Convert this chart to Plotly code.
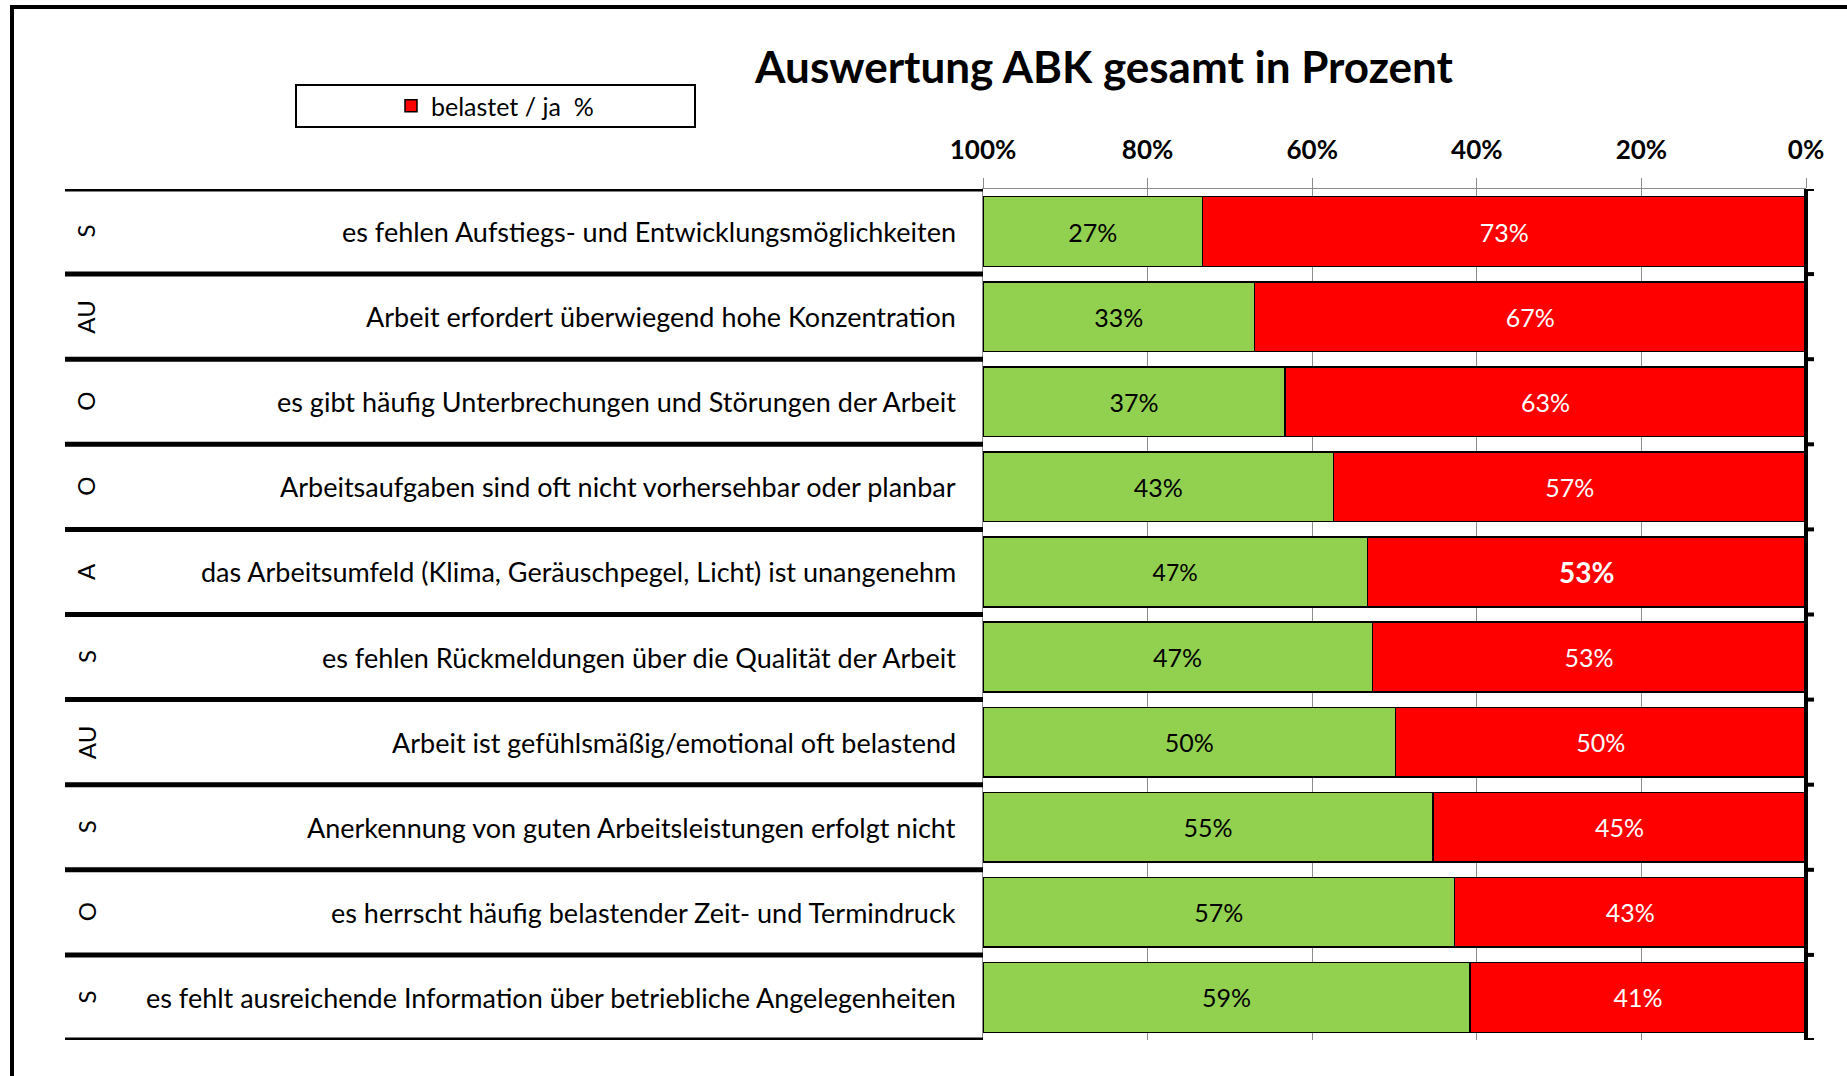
import plotly.graph_objects as go

# ---------------- data ----------------
letters = ["S", "AU", "O", "O", "A", "S", "AU", "S", "O", "S"]
items = [
    "es fehlen Aufstiegs- und Entwicklungsmöglichkeiten",
    "Arbeit erfordert überwiegend hohe Konzentration",
    "es gibt häufig Unterbrechungen und Störungen der Arbeit",
    "Arbeitsaufgaben sind oft nicht vorhersehbar oder planbar",
    "das Arbeitsumfeld (Klima, Geräuschpegel, Licht) ist unangenehm",
    "es fehlen Rückmeldungen über die Qualität der Arbeit",
    "Arbeit ist gefühlsmäßig/emotional oft belastend",
    "Anerkennung von guten Arbeitsleistungen erfolgt nicht",
    "es herrscht häufig belastender Zeit- und Termindruck",
    "es fehlt ausreichende Information über betriebliche Angelegenheiten",
]
green_vals = [26.7, 33.0, 36.7, 42.6, 46.7, 47.3, 50.1, 54.7, 57.3, 59.2]
red_vals = [73.3, 67.0, 63.3, 57.4, 53.3, 52.7, 49.9, 45.3, 42.7, 40.8]
tick_vals = [100, 80, 60, 40, 20, 0]
tick_text = ["100%", "80%", "60%", "40%", "20%", "0%"]
legend_name = "belastet / ja  %"
title_text = "Auswertung ABK gesamt in Prozent"

FONT = "Lato"
W, H = 1847, 1076
L, R, T, B = 983, 1806, 189, 1040   # plot area in pixels
PW, PH = R - L, B - T

def px(x):
    return (x - L) / PW

def py(y):
    return (B - y) / PH

n = len(items)
pos = list(range(n))

red_text = [f"{round(v)}%" for v in red_vals]
green_text = [f"{round(v)}%" for v in green_vals]
red_text[4] = "<b>" + red_text[4] + "</b>"
red_sizes = [25] * n
red_sizes[4] = 28
green_sizes = [25] * n
green_sizes[4] = 23

fig = go.Figure()
fig.add_trace(go.Bar(
    y=pos, x=red_vals, orientation="h", name=legend_name,
    marker=dict(color="#FF0000", line=dict(color="black", width=1.5)),
    width=0.82, text=red_text, textposition="inside", insidetextanchor="middle",
    textangle=0, textfont=dict(color="white", size=red_sizes, family=FONT),
    constraintext="none", showlegend=True,
))
fig.add_trace(go.Bar(
    y=pos, x=green_vals, orientation="h", name="nicht belastet",
    marker=dict(color="#92D050", line=dict(color="black", width=1.5)),
    width=0.82, text=green_text, textposition="inside", insidetextanchor="middle",
    textangle=0, textfont=dict(color="black", size=green_sizes, family=FONT),
    constraintext="none", showlegend=False,
))

shapes = []
# outer frame
shapes.append(dict(type="line", xref="paper", yref="paper", x0=px(12), x1=px(W + 20),
                   y0=py(7), y1=py(7), line=dict(color="black", width=4)))
shapes.append(dict(type="line", xref="paper", yref="paper", x0=px(12), x1=px(12),
                   y0=py(5), y1=py(H + 20), line=dict(color="black", width=4)))
# thick row separators in label area
for k in range(n + 1):
    shapes.append(dict(type="line", xref="paper", yref="y", x0=px(65), x1=0,
                       y0=k - 0.5, y1=k - 0.5, line=dict(color="black", width=5)))
    shapes.append(dict(type="line", xref="paper", yref="y", x0=1, x1=px(1814),
                       y0=k - 0.5, y1=k - 0.5, line=dict(color="black", width=4)))
# thick right axis at 0%
shapes.append(dict(type="line", xref="paper", yref="y", x0=1, x1=1,
                   y0=-0.5, y1=n - 0.5, line=dict(color="black", width=4)))
# legend box
shapes.append(dict(type="rect", xref="paper", yref="paper", x0=px(296), x1=px(695),
                   y0=py(127), y1=py(85), line=dict(color="black", width=2),
                   fillcolor="white", layer="below"))

annotations = []
for i in range(n):
    annotations.append(dict(xref="paper", yref="y", x=px(958), y=i, text=items[i],
                            xanchor="right", yanchor="middle", showarrow=False,
                            font=dict(family=FONT, size=27, color="black")))
    annotations.append(dict(xref="paper", yref="y", x=px(86), y=i, text=letters[i],
                            xanchor="center", yanchor="middle", showarrow=False,
                            textangle=-90, font=dict(family=FONT, size=24, color="black")))

fig.update_layout(
    width=W, height=H, autosize=False,
    margin=dict(l=L, r=W - R, t=T, b=H - B, pad=0),
    paper_bgcolor="white", plot_bgcolor="white",
    barmode="stack", bargap=0.18,
    title=dict(text=f"<b>{title_text}</b>", x=px(1104), xref="paper", xanchor="center",
               y=1 - 68 / H, yanchor="middle",
               font=dict(family=FONT, size=44, color="black")),
    xaxis=dict(range=[100, 0], side="top", tickvals=tick_vals, ticktext=tick_text,
               tickfont=dict(family=FONT, size=26, color="black", weight="bold"),
               showgrid=True, gridcolor="#8C8C8C", gridwidth=1,
               ticks="outside", ticklen=10, tickcolor="#8C8C8C", tickwidth=1,
               ticklabelstandoff=9,
               showline=True, linecolor="#8C8C8C", linewidth=1, zeroline=False,
               fixedrange=True),
    yaxis=dict(range=[n - 0.5, -0.5], showticklabels=False, showgrid=False,
               zeroline=False, showline=True, linecolor="#8C8C8C", linewidth=1,
               ticks="", fixedrange=True),
    legend=dict(x=px(495), y=py(106), xanchor="center", yanchor="middle",
                orientation="h", bgcolor="rgba(0,0,0,0)",
                font=dict(family=FONT, size=25, color="black")),
    shapes=shapes, annotations=annotations,
    font=dict(family=FONT),
)

fig.write_html("out.html", config={"displayModeBar": False},
               post_script="document.body.style.margin='0';document.body.style.overflow='hidden';")
